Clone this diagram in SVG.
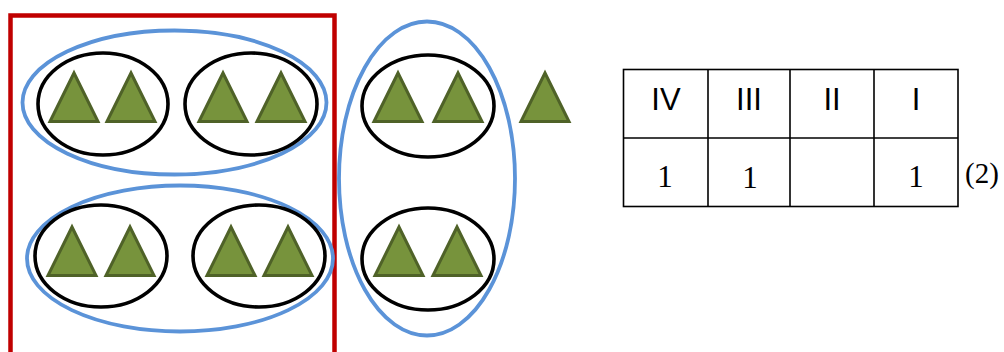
<svg xmlns="http://www.w3.org/2000/svg" xmlns:xlink="http://www.w3.org/1999/xlink" width="1004" height="352" viewBox="0 0 1004 352">
<style>
.blue{fill:none;stroke:#5B93D8;stroke-width:3.8}
.black{fill:none;stroke:#000;stroke-width:3.6}
.tri{fill:#77933C;stroke:#4F6228;stroke-width:3;stroke-linejoin:miter}
.cell{fill:none;stroke:#000;stroke-width:1.6}
.hdr{font-family:"Liberation Sans",Arial,sans-serif;font-size:31px;fill:#000;text-anchor:middle}
.num{font-family:"Liberation Serif","Times New Roman",serif;font-size:31px;fill:#000;text-anchor:middle}
</style>
<defs>
<polygon id="t" class="tri" points="2,51.5 26,3 50,51.5"/>
</defs>
<rect width="1004" height="352" fill="#fff"/>
<g id="red-box"><rect x="10.5" y="15.5" width="324" height="345" fill="none" stroke="#C00000" stroke-width="4.5"/></g>
<g id="group-top-left">
<ellipse class="blue" cx="174.5" cy="102.5" rx="152" ry="72"/>
<ellipse class="black" cx="103" cy="104" rx="65" ry="51"/>
<ellipse class="black" cx="251" cy="104" rx="66" ry="51"/>
<use xlink:href="#t" x="48" y="70"/>
<use xlink:href="#t" x="105" y="70"/>
<use xlink:href="#t" x="197" y="70"/>
<use xlink:href="#t" x="255" y="70"/>
</g>
<g id="group-bottom-left">
<ellipse class="blue" cx="180" cy="258.5" rx="153" ry="73"/>
<ellipse class="black" cx="101" cy="256" rx="66" ry="51"/>
<ellipse class="black" cx="259" cy="256" rx="66" ry="51"/>
<use xlink:href="#t" x="46" y="224"/>
<use xlink:href="#t" x="104" y="224"/>
<use xlink:href="#t" x="205" y="224"/>
<use xlink:href="#t" x="262" y="224"/>
</g>
<g id="group-right">
<ellipse class="blue" cx="427" cy="178.5" rx="88" ry="157"/>
<ellipse class="black" cx="428" cy="106" rx="66" ry="51"/>
<ellipse class="black" cx="428" cy="259" rx="66" ry="51"/>
<use xlink:href="#t" x="372" y="70"/>
<use xlink:href="#t" x="432" y="70"/>
<use xlink:href="#t" x="373" y="224"/>
<use xlink:href="#t" x="431" y="224"/>
</g>
<g id="lone-triangle"><use xlink:href="#t" x="519" y="70"/></g>
<g id="table">
<rect class="cell" x="623.5" y="69.5" width="334.5" height="137"/>
<line class="cell" x1="623.5" y1="138" x2="958" y2="138"/>
<line class="cell" x1="708" y1="69.5" x2="708" y2="206.5"/>
<line class="cell" x1="790" y1="69.5" x2="790" y2="206.5"/>
<line class="cell" x1="874" y1="69.5" x2="874" y2="206.5"/>
<text class="hdr" x="666" y="110">IV</text>
<text class="hdr" x="749" y="110">III</text>
<text class="hdr" x="832" y="110">II</text>
<text class="hdr" x="916" y="110">I</text>
<text class="num" x="665" y="187">1</text>
<text class="num" x="750" y="188">1</text>
<text class="num" x="916" y="187">1</text>
<text class="num" x="982" y="183" style="font-size:29px">(2)</text>
</g>
</svg>
